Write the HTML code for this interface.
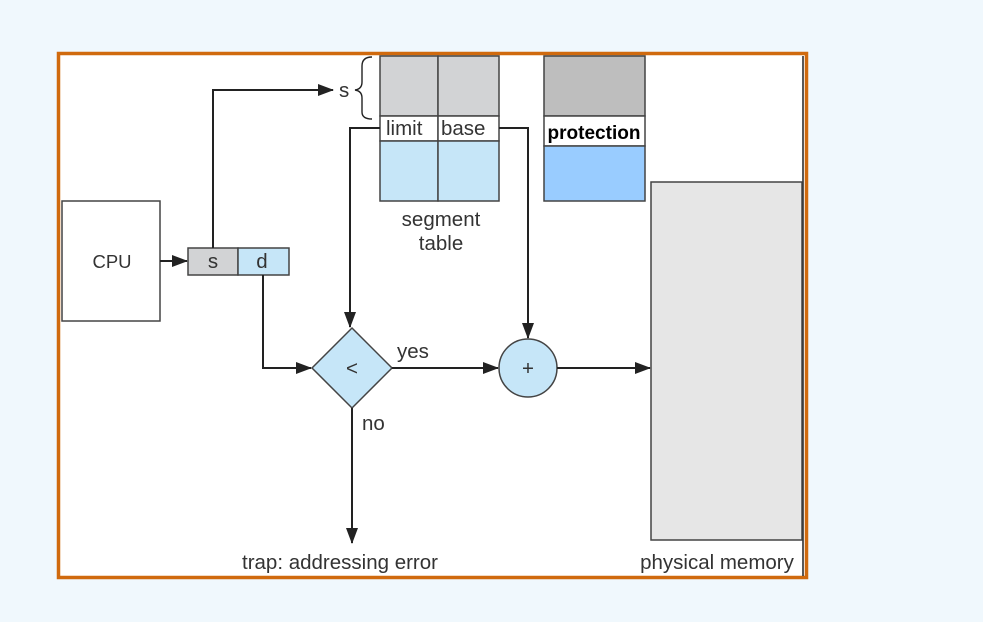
<!DOCTYPE html>
<html><head><meta charset="utf-8"><style>
html,body{margin:0;padding:0;background:#f0f8fd;}
svg{display:block;font-family:"Liberation Sans",Arial,sans-serif;}
</style></head><body>
<svg width="983" height="622" viewBox="0 0 983 622" xmlns="http://www.w3.org/2000/svg">
<defs>
<marker id="a" markerWidth="16" markerHeight="12" refX="15" refY="6" orient="auto" markerUnits="userSpaceOnUse">
<path d="M0,0 L16,6 L0,12 z" fill="#222"/></marker>
</defs>
<rect width="983" height="622" fill="#f0f8fd"/>
<rect x="58.5" y="53.5" width="748" height="524" fill="#fff" stroke="#d06a0e" stroke-width="3.5"/>
<line x1="803" y1="56" x2="803" y2="576" stroke="#222" stroke-width="1.5"/>
<g stroke="#444" stroke-width="1.5">
<rect x="380" y="56" width="58" height="60" fill="#d2d3d5"/>
<rect x="438" y="56" width="61" height="60" fill="#d2d3d5"/>
<rect x="380" y="116" width="58" height="25" fill="#fff"/>
<rect x="438" y="116" width="61" height="25" fill="#fff"/>
<rect x="380" y="141" width="58" height="60" fill="#c6e6f8"/>
<rect x="438" y="141" width="61" height="60" fill="#c6e6f8"/>
<rect x="544" y="56" width="101" height="60" fill="#bebebe"/>
<rect x="544" y="116" width="101" height="30" fill="#fff"/>
<rect x="544" y="146" width="101" height="55" fill="#99ccff"/>
<rect x="651" y="182" width="151" height="358" fill="#e6e6e6"/>
<rect x="62" y="201" width="98" height="120" fill="#fff"/>
<rect x="188" y="248" width="50" height="27" fill="#d2d3d5"/>
<rect x="238" y="248" width="51" height="27" fill="#c6e6f8"/>
<polygon points="352,328 392,368 352,408 312,368" fill="#c6e6f8"/>
<circle cx="528" cy="368" r="29" fill="#c6e6f8"/>
</g>
<g stroke="#222" stroke-width="2" fill="none">
<polyline points="213,248 213,90 333,90" marker-end="url(#a)"/>
<polyline points="380,128 350,128 350,327" marker-end="url(#a)"/>
<polyline points="499,128 528,128 528,338" marker-end="url(#a)"/>
<polyline points="263,275 263,368 311,368" marker-end="url(#a)"/>
<polyline points="160,261 187,261" marker-end="url(#a)"/>
<polyline points="392,368 498,368" marker-end="url(#a)"/>
<polyline points="557,368 650,368" marker-end="url(#a)"/>
<polyline points="352,408 352,543" marker-end="url(#a)"/>
<path d="M372,57 Q362,57 362,66 L362,82 Q362,89 355,90 Q362,91 362,98 L362,112 Q362,119 372,119" stroke-width="1.4"/>
</g>
<g fill="#333" font-size="20.5">
<text x="339" y="97">s</text>
<text x="386" y="135">limit</text>
<text x="441" y="135">base</text>
<text x="594" y="139" text-anchor="middle" font-weight="bold" font-size="19" fill="#000">protection</text>
<text x="441" y="226" text-anchor="middle">segment</text>
<text x="441" y="250" text-anchor="middle">table</text>
<text x="112" y="268" text-anchor="middle" font-size="18.5">CPU</text>
<text x="213" y="268" text-anchor="middle">s</text>
<text x="262" y="268" text-anchor="middle">d</text>
<text x="352" y="375" text-anchor="middle">&lt;</text>
<text x="528" y="375" text-anchor="middle">+</text>
<text x="397" y="358">yes</text>
<text x="362" y="430">no</text>
<text x="340" y="569" text-anchor="middle">trap: addressing error</text>
<text x="717" y="569" text-anchor="middle">physical memory</text>
</g>
</svg>
</body></html>
